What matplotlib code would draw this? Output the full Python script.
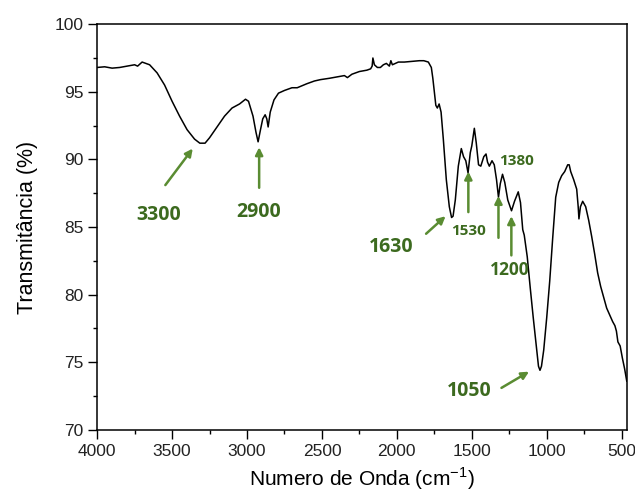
import matplotlib
matplotlib.use("Agg")
import matplotlib.pyplot as plt
from matplotlib.ticker import MultipleLocator

# spectrum (wavenumber in cm-1, transmittance in %)
wavenumber = [4000, 3950, 3900, 3850, 3800, 3750, 3730, 3700, 3650, 3600, 3550,
              3500, 3450, 3400, 3350, 3315, 3280, 3250, 3200, 3150, 3100, 3050,
              3010, 2990, 2960, 2940, 2926, 2910, 2895, 2879, 2868, 2859, 2845,
              2820, 2790, 2750, 2700, 2665, 2600, 2550, 2510, 2450, 2400, 2350,
              2330, 2300, 2250, 2200, 2175, 2165, 2160, 2150, 2130, 2110, 2090,
              2070, 2050, 2040, 2030, 2010, 1990, 1950, 1900, 1850, 1820, 1790,
              1770, 1760, 1750, 1740, 1730, 1718, 1705, 1690, 1670, 1650, 1635,
              1625, 1610, 1590, 1570, 1555, 1540, 1525, 1510, 1500, 1483, 1470,
              1455, 1440, 1420, 1405, 1395, 1383, 1365, 1350, 1335, 1322, 1310,
              1295, 1280, 1260, 1235, 1215, 1190, 1175, 1160, 1150, 1130, 1110,
              1090, 1070, 1055, 1045, 1035, 1020, 1000, 980, 960, 940, 920, 900,
              880, 860, 850, 840, 820, 800, 790, 785, 775, 760, 740, 720, 700,
              680, 660, 640, 620, 600, 580, 560, 545, 535, 525, 510, 495, 480, 466]
transmittance = [96.8, 96.85, 96.75, 96.8, 96.9, 97.0, 96.9, 97.2, 97.0, 96.4, 95.5,
                 94.3, 93.2, 92.2, 91.5, 91.2, 91.2, 91.6, 92.4, 93.2, 93.8, 94.1,
                 94.45, 94.3, 93.2, 92.0, 91.3, 92.2, 93.0, 93.3, 93.0, 92.4, 93.5,
                 94.4, 94.9, 95.1, 95.3, 95.3, 95.6, 95.8, 95.9, 96.0, 96.1, 96.2,
                 96.05, 96.3, 96.5, 96.6, 96.7, 96.9, 97.5, 97.0, 96.8, 96.8, 97.0,
                 97.1, 96.9, 97.3, 97.0, 97.1, 97.2, 97.2, 97.25, 97.3, 97.3, 97.2,
                 96.8, 96.0, 95.0, 94.0, 93.8, 94.1, 93.5, 91.5, 88.5, 86.5, 85.7,
                 85.8, 87.0, 89.5, 90.8, 90.2, 89.9, 89.0, 90.5, 91.0, 92.3, 91.2,
                 89.6, 89.5, 90.2, 90.4, 89.8, 89.5, 89.9, 89.6, 88.5, 87.2, 88.2,
                 88.9, 88.3, 87.0, 86.2, 86.9, 87.6, 86.8, 84.8, 84.4, 82.8, 80.5,
                 78.3, 76.2, 74.7, 74.4, 74.7, 75.9, 78.3, 81.0, 84.2, 87.2, 88.3, 88.8,
                 89.1, 89.6, 89.6, 89.1, 88.5, 87.8, 86.5, 85.6, 86.5, 86.9, 86.5, 85.5, 84.3,
                 83.0, 81.6, 80.6, 79.8, 79.0, 78.5, 78.0, 77.7, 77.3, 76.5, 76.2, 75.3, 74.5, 73.6]

# band labels: text, text position, arrow tail, arrow head, font size
band_labels = ["3300", "2900", "1630", "1530", "1380", "1200", "1050"]
label_pos = [(3590, 85.9), (2920, 86.1), (2040, 83.5), (1525, 84.7),
             (1205, 89.9), (1250, 81.8), (1520, 72.9)]
arrow_from = [(3545, 88.1), (2919, 87.9), (1805, 84.5), (1523, 86.1),
              (1322, 84.2), (1236, 82.9), (1302, 73.1)]
arrow_to = [(3362, 90.8), (2919, 90.9), (1675, 85.8), (1523, 89.1),
            (1322, 87.3), (1236, 85.8), (1118, 74.3)]
label_size = [14, 14, 14, 11, 11, 12.5, 14]

TEXT_GREEN = "#3c6a1f"
ARROW_GREEN = "#5a8c32"

fig = plt.figure(figsize=(6.35, 4.94), dpi=100)
ax = fig.add_axes([0.153, 0.130, 0.834, 0.821])

ax.plot(wavenumber, transmittance, color="black", lw=1.1)

for txt, pos, p0, p1, fs in zip(band_labels, label_pos, arrow_from, arrow_to, label_size):
    ax.annotate("", xy=p1, xytext=p0,
                arrowprops=dict(arrowstyle="-|>", color=ARROW_GREEN, lw=1.8,
                                mutation_scale=11, shrinkA=0, shrinkB=0))
    ax.text(pos[0], pos[1], txt, color=TEXT_GREEN, fontsize=fs, fontweight="bold",
            family=["Open Sans", "DejaVu Sans"], ha="center", va="center")

ax.set_xlim(4000, 466)
ax.set_ylim(70, 100)
ax.xaxis.set_major_locator(MultipleLocator(500))
ax.xaxis.set_minor_locator(MultipleLocator(250))
ax.yaxis.set_major_locator(MultipleLocator(5))
ax.yaxis.set_minor_locator(MultipleLocator(2.5))
ax.tick_params(which="major", direction="out", length=6.5, width=1,
               labelsize=12.5, labelfontfamily="Liberation Sans", pad=3.5,
               labelcolor="#222222")
ax.tick_params(which="minor", direction="out", length=3, width=1)

ax.set_xlabel("Numero de Onda (cm$^{\\mathregular{-1}}$)", fontsize=15,
              family="Liberation Sans", labelpad=5)
ax.set_ylabel("Transmitância (%)", fontsize=15.5, family="Liberation Sans",
              labelpad=12)

for s in ax.spines.values():
    s.set_linewidth(1.1)

fig.savefig("out.png", dpi=100)
